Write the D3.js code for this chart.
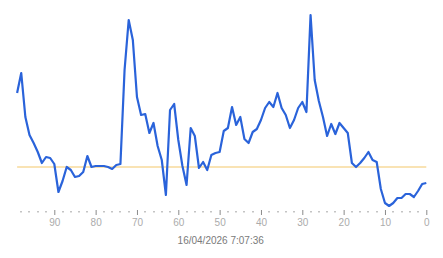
<!DOCTYPE html>
<html>
<head>
<meta charset="utf-8">
<script src="https://cdn.jsdelivr.net/npm/d3@7"></script>
<style>
  html, body { margin: 0; padding: 0; background: #fff; }
  svg { display: block; font-family: "Liberation Sans", Arial, sans-serif; }
</style>
</head>
<body>
<svg width="443" height="258"></svg>
<script>
// données (secondes écoulées, de 99 à 0)
const seconds = d3.range(99, -1, -1);
const values = [
  117, 137, 93, 75, 67, 58, 47, 53, 52, 46,
  18, 29, 43, 40, 33, 34, 38, 54, 43, 44,
  44, 44, 43, 41, 45, 46, 140, 190, 170, 113,
  95, 96, 77, 87, 64, 50, 15, 100, 106, 70,
  44, 25, 82, 74, 42, 48, 40, 55, 57, 58,
  79, 82, 103, 85, 93, 71, 67, 78, 81, 90,
  102, 108, 103, 117, 102, 95, 82, 90, 102, 108,
  98, 195, 130, 109, 93, 74, 86, 76, 87, 82,
  77, 47, 43, 47, 52, 58, 50, 48, 21, 7,
  4, 7, 12, 12, 16, 16, 13, 19, 26, 27
];
const refValue = 43;
const majorTicks = [90, 80, 70, 60, 50, 40, 30, 20, 10, 0];
const minorTicks = d3.range(98, -1, -2).filter(d => d % 10 !== 0);
const timestamp = '16/04/2026 7:07:36';

const svg = d3.select('svg');
const lineColor = '#2a63da';
const refColor = '#f3c86a';

// échelles
const x = d3.scaleLinear()
  .domain([99, 0])
  .range([17.1, 426.3]);

const y = d3.scaleLinear()
  .domain([0, 200])
  .range([210, 10]);

// ligne de référence
svg.append('line')
  .attr('x1', x(99))
  .attr('x2', x(0))
  .attr('y1', y(refValue))
  .attr('y2', y(refValue))
  .attr('stroke', refColor)
  .attr('stroke-width', 1.2);

// courbe
const linePathCreator = d3.line()
  .x((d, i) => x(seconds[i]))
  .y(d => y(d));

svg.append('path')
  .attr('d', linePathCreator(values))
  .attr('fill', 'none')
  .attr('stroke', lineColor)
  .attr('stroke-width', 2.2)
  .attr('stroke-linejoin', 'round');

// axe X
const axis = svg.append('g')
  .attr('transform', 'translate(0, 210)')
  .call(d3.axisBottom(x)
    .tickValues(majorTicks)
    .tickSize(5)
    .tickPadding(4)
    .tickFormat(d => d));

axis.select('.domain').remove();
axis.selectAll('.tick line').attr('stroke', '#8a8a8a');
axis.selectAll('.tick text')
  .attr('fill', '#ababab')
  .style('font-size', '10px')
  .style('font-family', '"Liberation Sans", Arial, sans-serif');

// petites graduations
svg.append('g')
  .selectAll('rect')
  .data(minorTicks)
  .join('rect')
  .attr('x', d => Math.round(x(d)) - 0.5)
  .attr('y', 211)
  .attr('width', 1)
  .attr('height', 1.5)
  .attr('fill', '#8a8a8a');

// horodatage
svg.append('text')
  .attr('x', (x(99) + x(0)) / 2 - 1)
  .attr('y', 244)
  .attr('text-anchor', 'middle')
  .attr('fill', '#7a7a7a')
  .style('font-size', '10px')
  .text(timestamp);
</script>
</body>
</html>
